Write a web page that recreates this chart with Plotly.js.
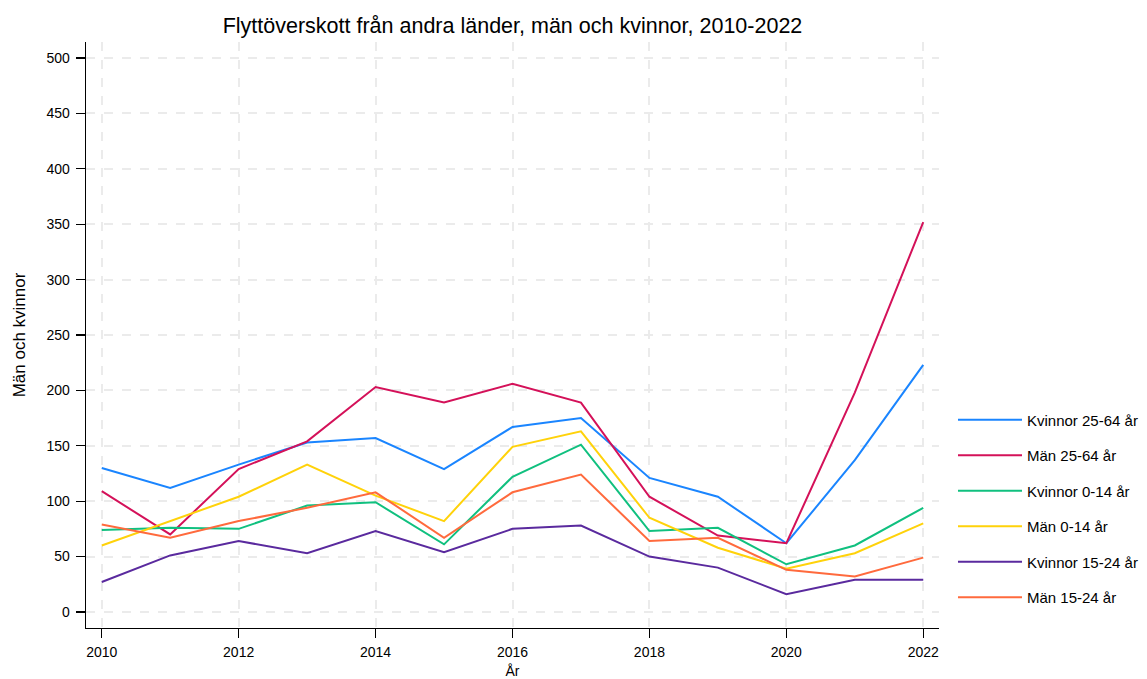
<!DOCTYPE html>
<html>
<head>
<meta charset="utf-8">
<script src="https://cdn.plot.ly/plotly-3.0.1.min.js"></script>
<style>html,body{margin:0;padding:0;background:#fff;}#chart{width:1147px;height:679px;}</style>
</head>
<body>
<div id="chart"></div>
<script>
const years = [2010, 2011, 2012, 2013, 2014, 2015, 2016, 2017, 2018, 2019, 2020, 2021, 2022];
const seriesNames = ["Kvinnor 25-64 år", "Män 25-64 år", "Kvinnor 0-14 år", "Män 0-14 år", "Kvinnor 15-24 år", "Män 15-24 år"];
const kvinnor2564 = [130, 112, 133, 153, 157, 129, 167, 175, 121, 104, 62, 137, 223];
const man2564     = [109, 70, 129, 154, 203, 189, 206, 189, 104, 69, 62, 198, 352];
const kvinnor014  = [74, 76, 75, 96, 99, 61, 122, 151, 73, 76, 43, 60, 94];
const man014      = [60, 82, 104, 133, 105, 82, 149, 163, 85, 58, 39, 53, 80];
const kvinnor1524 = [27, 51, 64, 53, 73, 54, 75, 78, 50, 40, 16, 29, 29];
const man1524     = [79, 67, 82, 94, 108, 67, 108, 124, 64, 67, 38, 32, 49];
const seriesValues = [kvinnor2564, man2564, kvinnor014, man014, kvinnor1524, man1524];
const colors = ["#1a85ff", "#d41159", "#10c07f", "#ffd20a", "#5a2a9e", "#ff6a3d"];
const yTicks = [0, 50, 100, 150, 200, 250, 300, 350, 400, 450, 500];
const xTicks = [2010, 2012, 2014, 2016, 2018, 2020, 2022];

const font = "Liberation Sans, Arial, sans-serif";
const traces = seriesNames.map((name, i) => ({
  type: "scatter", mode: "lines", name: name, x: years, y: seriesValues[i],
  line: {color: colors[i], width: 2}, legendgroup: "g" + i, hoverinfo: "skip"
}));

const layout = {
  width: 1147, height: 679,
  margin: {l: 86, r: 208, t: 42, b: 51, autoexpand: false},
  paper_bgcolor: "#fff", plot_bgcolor: "#fff",
  font: {family: font, size: 14, color: "#000"},
  title: {text: "Flyttöverskott från andra länder, män och kvinnor, 2010-2022", font: {family: font, size: 21.5, color: "#000"}, x: 0.4468, xanchor: "center", y: 0.963, yanchor: "middle"},
  xaxis: {
    range: [2009.77, 2022.23], tickvals: xTicks, ticktext: xTicks.map(String),
    showline: true, linecolor: "#000", linewidth: 1.3, ticks: "outside", ticklen: 9, tickcolor: "#000", tickwidth: 1.3,
    ticklabelstandoff: 2,
    showgrid: true, gridcolor: "#ebebeb", gridwidth: 2, griddash: "dash", zeroline: false,
    title: {text: "År", font: {family: font, size: 14}, standoff: 8},
    tickfont: {size: 14}
  },
  yaxis: {
    range: [-14.5, 514.5], tickvals: yTicks, ticktext: yTicks.map(String),
    showline: true, linecolor: "#000", linewidth: 1.3, ticks: "outside", ticklen: 9, tickcolor: "#000", tickwidth: 1.3,
    ticklabelstandoff: 3,
    showgrid: true, gridcolor: "#ebebeb", gridwidth: 2, griddash: "dash", zeroline: false,
    title: {text: "Män och kvinnor", font: {family: font, size: 17}, standoff: 16},
    tickfont: {size: 14}
  },
  showlegend: true,
  legend: {x: 1.0164, xanchor: "left", y: 0.383, yanchor: "top", font: {size: 15}, tracegroupgap: 13, itemwidth: 64, bgcolor: "rgba(0,0,0,0)"}
};

Plotly.newPlot("chart", traces, layout, {displayModeBar: false, staticPlot: true});
</script>
</body>
</html>
